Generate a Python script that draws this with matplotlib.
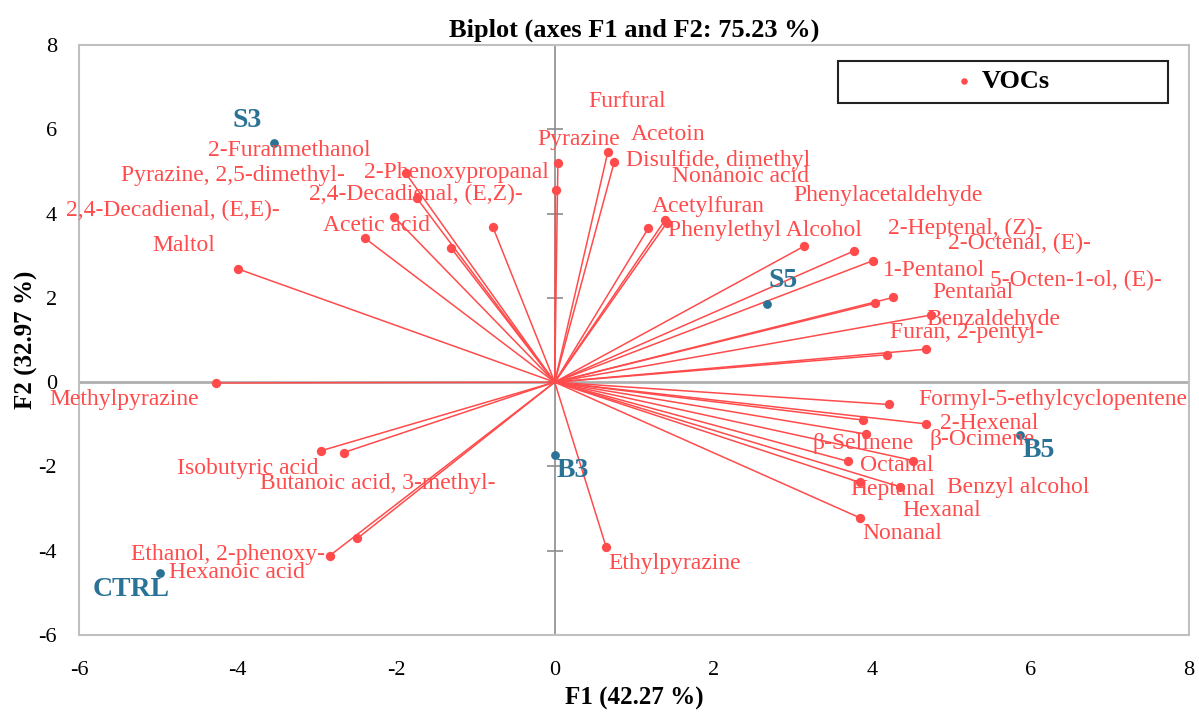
import matplotlib
matplotlib.use("Agg")
import matplotlib.pyplot as plt
from matplotlib.patches import Rectangle

# variables (VOCs): F1 / F2 coordinates
voc_names = [
    "2-Phenoxypropanal", "2,4-Decadienal, (E,Z)-", "Acetic acid",
    "2,4-Decadienal, (E,E)-", "Pyrazine, 2,5-dimethyl-", "2-Furanmethanol",
    "Maltol", "Methylpyrazine",
    "Pyrazine", "Furfural", "Acetoin", "Disulfide, dimethyl", "Nonanoic acid",
    "Acetylfuran", "Phenylethyl Alcohol", "Phenylacetaldehyde",
    "2-Heptenal, (Z)-", "2-Octenal, (E)-", "1-Pentanol", "5-Octen-1-ol, (E)-",
    "Pentanal", "Benzaldehyde", "Furan, 2-pentyl-",
    "Formyl-5-ethylcyclopentene", "2-Hexenal", "β-Selinene", "β-Ocimene",
    "Octanal", "Benzyl alcohol", "Heptanal", "Hexanal", "Nonanal",
    "Ethylpyrazine",
    "Isobutyric acid", "Butanoic acid, 3-methyl-", "Hexanoic acid",
    "Ethanol, 2-phenoxy-",
]
voc_f1 = [-1.88, -1.74, -2.03, -2.39, -1.31, -0.78, -4.00, -4.27,
          0.04, 0.01, 0.67, 0.75, 1.39, 1.18, 1.41, 3.14, 3.77, 4.01, 4.04,
          4.27, 4.74, 4.68, 4.19,
          4.21, 4.68, 3.89, 3.92, 3.70, 4.52, 3.85, 4.35, 3.85, 0.65,
          -2.95, -2.66, -2.49, -2.84]
voc_f2 = [4.96, 4.37, 3.93, 3.41, 3.19, 3.68, 2.69, -0.02,
          5.19, 4.56, 5.46, 5.22, 3.84, 3.65, 3.77, 3.22, 3.11, 2.88, 1.87,
          2.01, 1.59, 0.78, 0.65,
          -0.53, -0.99, -0.90, -1.23, -1.88, -1.86, -2.38, -2.48, -3.22, -3.92,
          -1.63, -1.67, -3.71, -4.12]

# observations
obs_names = ["S3", "S5", "B3", "B5", "CTRL"]
obs_f1 = [-3.54, 2.68, 0.0, 5.87, -4.98]
obs_f2 = [5.67, 1.86, -1.73, -1.25, -4.53]

x_ticks = [-6, -4, -2, 0, 2, 4, 6, 8]
y_ticks = [-6, -4, -2, 0, 2, 4, 6, 8]

# label offsets in pixels (dx, dy) from each point
voc_offsets = [
    (-42, 1), (-108, 4), (-71, -9), (-299, 28), (-330, 72), (-285, 77),
    (-85, 23), (-167, -17),
    (-21, 24), (33, 88), (23, 18), (12, 2), (7, 44), (3, 22), (1, -7),
    (-10, 51), (34, 23), (75, 17), (8, 33), (97, 17), (2, 23), (1, 30),
    (3, 22),
    (30, 5), (14, 0), (-51, -23), (64, -6), (12, -4), (34, -27), (-10, -7),
    (3, -24), (2, -16), (2, -16),
    (-144, -18), (-84, -31), (-188, -34), (-199, 1),
]
obs_offsets = [(-42, 23), (1, 23), (2, -15), (2, -16), (-67, -16)]

RED = "#FF4B4B"
TEAL = "#2B7396"
plt.rcParams["font.family"] = ["Liberation Serif", "DejaVu Serif"]
plt.rcParams["axes.unicode_minus"] = False

fig = plt.figure(figsize=(11.99, 7.13), dpi=100)
ax = fig.add_axes([79 / 1199, 1 - 635 / 713, 1110 / 1199, 590 / 713])

for x, y in zip(voc_f1, voc_f2):
    ax.plot([0, x], [0, y], color=RED, lw=1.1, zorder=3)

ax.axhline(0, color="#AFAFAF", lw=2, zorder=1)
ax.axvline(0, color="#8C8C8C", lw=1.2, zorder=1)
ax.hlines(y_ticks, -0.1, 0.1, color="#8C8C8C", lw=1.2, zorder=1)

ax.scatter(voc_f1, voc_f2, s=45, color=RED, zorder=4, label="VOCs",
           linewidths=0)
ax.scatter(obs_f1, obs_f2, s=40, color=TEAL, zorder=4, linewidths=0)

for name, x, y, (dx, dy) in zip(voc_names, voc_f1, voc_f2, voc_offsets):
    ax.annotate(name, (x, y), xytext=(dx, dy), textcoords="offset pixels",
                ha="left", va="center", fontsize=17, color=RED, zorder=5)
for name, x, y, (dx, dy) in zip(obs_names, obs_f1, obs_f2, obs_offsets):
    ax.annotate(name, (x, y), xytext=(dx, dy), textcoords="offset pixels",
                ha="left", va="center", fontsize=20, color=TEAL,
                fontweight="bold", zorder=5)

ax.set_xlim(-6, 8)
ax.set_ylim(-6, 8)
ax.set_xticks(x_ticks)
ax.set_yticks(y_ticks)
ax.tick_params(length=0, labelsize=16)
ax.tick_params(axis="x", pad=19)
ax.tick_params(axis="y", pad=16)
for sp in ax.spines.values():
    sp.set_color("#C0C0C0")
    sp.set_linewidth(1.5)

ax.set_title("Biplot (axes F1 and F2: 75.23 %)", fontsize=19,
             fontweight="bold", pad=6)
ax.set_xlabel("F1 (42.27 %)", fontsize=18, fontweight="bold", labelpad=5)
ax.set_ylabel("F2 (32.97 %)", fontsize=18, fontweight="bold", labelpad=0)

ax.add_patch(Rectangle((0.684, 0.9025), 0.297, 0.0705, transform=ax.transAxes,
                       facecolor="white", edgecolor="#222222", lw=1.5,
                       zorder=6))
leg = ax.legend(loc="center", bbox_to_anchor=(0.8325, 0.938), frameon=False,
                prop={"size": 19, "weight": "bold"}, handletextpad=0.35,
                handlelength=0.6, markerscale=0.7, borderpad=0)
leg.set_zorder(7)

fig.savefig("out.png", dpi=100, facecolor="white")
